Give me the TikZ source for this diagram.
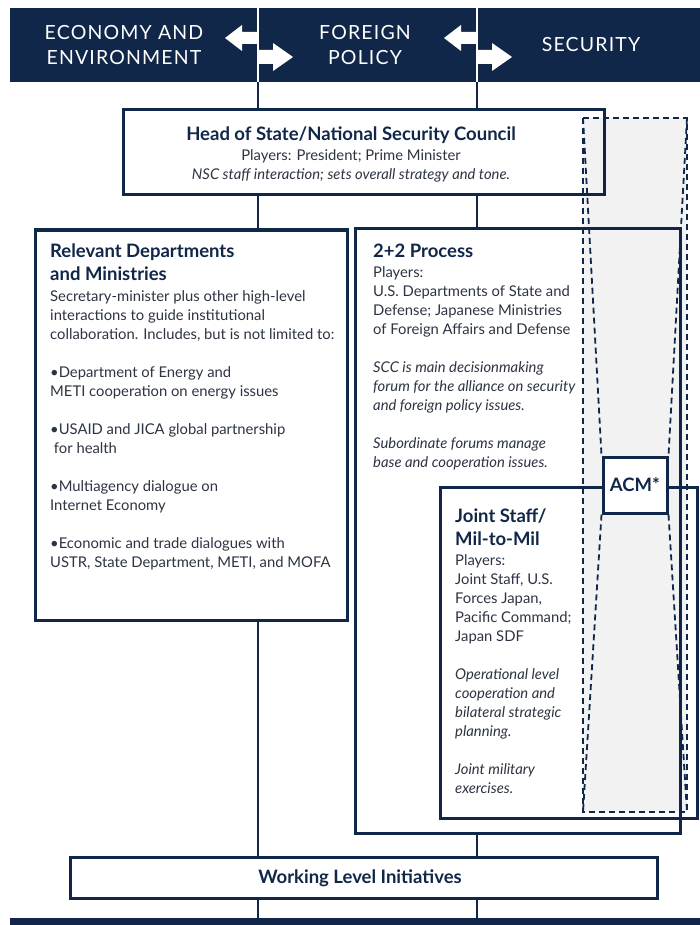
\documentclass[tikz,border=0pt]{standalone}
\usepackage{fontspec}
\setmainfont{Lato}
\definecolor{navy}{RGB}{17,39,73}
\definecolor{ink}{RGB}{45,52,66}

\begin{document}
\begin{tikzpicture}[x=1pt, y=-1pt,
    band/.style={fill=navy, inner sep=0pt, anchor=north west, minimum width=690pt},
    box/.style={draw=navy, line width=3pt, fill=white, rectangle, inner sep=0pt},
    frame/.style={draw=navy, line width=3pt, rectangle, inner sep=0pt},
    link/.style={navy, line width=1.4pt},
    hdr/.style={text=white, align=center, font=\fontsize{19.5}{25}\selectfont\addfontfeatures{LetterSpace=6}},
    ttl/.style={text=navy, align=left, inner sep=0pt, anchor=north west, font=\bfseries\fontsize{18.5}{22.5}\selectfont},
    txt/.style={text=ink, align=left, inner sep=0pt, anchor=north west, font=\fontsize{14.8}{19}\selectfont},
    acmline/.style={navy, line width=1.8pt, dash pattern=on 6pt off 4pt}]
    \useasboundingbox (0,0) rectangle (700,925);

    % column splits
    \coordinate (splitA) at (258,0);
    \coordinate (splitB) at (477,0);

    \node[band, minimum height=74pt] (band) at (10,8) {};
    \node[band, minimum height=10pt] (base) at (10,918) {};

    \draw[link] (band.south -| splitA) -- (base.north -| splitA);
    \draw[link] (band.south -| splitB) -- (base.north -| splitB);

    % header arrows
    \foreach \xs in {258,477} {
        \draw[white, line width=2.5pt] (\xs,8) -- (\xs,82);
        \begin{scope}[shift={(\xs,0)}]
            \fill[white] (0,32) -- (-16,32) -- (-16,25) -- (-33,38) -- (-16,51) -- (-16,44) -- (0,44) -- cycle;
            \fill[white] (0,50) -- (15,50) -- (15,43) -- (35,57) -- (15,71) -- (15,64) -- (0,64) -- cycle;
        \end{scope}
    }
    \node[hdr] (eco) at (124,45) {ECONOMY AND\\ENVIRONMENT};
    \node[hdr] (fp) at (365,45) {FOREIGN\\POLICY};
    \node[hdr] (sec) at (591,45) {SECURITY};

    % boxes
    \node[box, minimum width=481pt, minimum height=85pt] (head) at (363.5,152.5) {};
    \node[box, minimum width=312pt, minimum height=390pt] (dept) at (191,425) {};
    \node[box, minimum width=325pt, minimum height=605pt] (pp) at (517.5,531) {};
    \fill[black, fill opacity=0.05] (583,118) rectangle (687,812);
    \node[frame, minimum width=257pt, minimum height=331pt] (js) at (568.5,652.5) {};
    \node[box, minimum width=64pt, minimum height=56pt] (acm) at (635,485) {};
    \node[box, minimum width=587pt, minimum height=41pt] (wli) at (363.5,877.5) {};

    % ACM hourglass
    \draw[acmline] (583,118) rectangle (687,812);
    \draw[acmline] (583,118) -- (acm.north west) (687,118) -- (acm.north east);
    \draw[acmline] (acm.south west) -- (583,812) (acm.south east) -- (687,812);

    % texts
    \node[ttl, anchor=center, align=center] (headTitle) at (351,135) {Head of State/National Security Council};
    \node[txt, anchor=north, align=center] (headBody) at (351,149) {Players: President; Prime Minister\\\textit{NSC staff interaction; sets overall strategy and tone.}};

    \node[ttl] (deptTitle) at (50,244) {Relevant Departments\\and Ministries};
    \node[txt] (deptBody) at (50,290) {Secretary-minister plus other high-level\\
        interactions to guide institutional\\
        collaboration. Includes, but is not limited to:\\[19pt]
        •Department of Energy and\\
        METI cooperation on energy issues\\[19pt]
        •USAID and JICA global partnership\\
        \ for health\\[19pt]
        •Multiagency dialogue on\\
        Internet Economy\\[19pt]
        •Economic and trade dialogues with\\
        USTR, State Department, METI, and MOFA};

    \node[ttl] (ppTitle) at (373,244) {2+2 Process};
    \node[txt] (ppBody) at (373,266) {Players:\\
        U.S. Departments of State and\\
        Defense; Japanese Ministries\\
        of Foreign Affairs and Defense\\[19pt]
        \textit{SCC is main decisionmaking}\\
        \textit{forum for the alliance on security}\\
        \textit{and foreign policy issues.}\\[19pt]
        \textit{Subordinate forums manage}\\
        \textit{base and cooperation issues.}};

    \node[ttl, font=\bfseries\fontsize{18.5}{23}\selectfont] (jsTitle) at (455,509) {Joint Staff/\\Mil-to-Mil};
    \node[txt] (jsBody) at (455,554) {Players:\\
        Joint Staff, U.S.\\
        Forces Japan,\\
        Pacific Command;\\
        Japan SDF\\[19pt]
        \textit{Operational level}\\
        \textit{cooperation and}\\
        \textit{bilateral strategic}\\
        \textit{planning.}\\[19pt]
        \textit{Joint military}\\
        \textit{exercises.}};

    \node[ttl, anchor=center] (acmText) at (acm) {ACM*};
    \node[ttl, anchor=center] (wliText) at (360,878) {Working Level Initiatives};
\end{tikzpicture}
\end{document}
